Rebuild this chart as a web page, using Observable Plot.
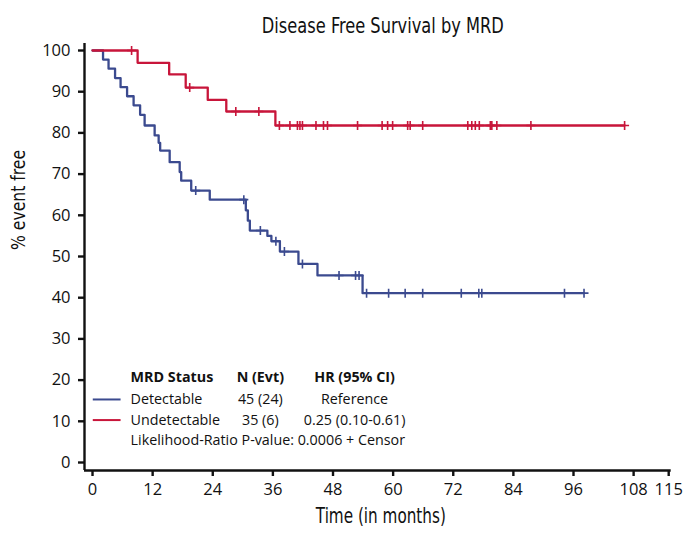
<!DOCTYPE html>
<html>
<head>
<meta charset="utf-8">
<script src="https://cdn.jsdelivr.net/npm/d3@7"></script>
<script src="https://cdn.jsdelivr.net/npm/@observablehq/plot@0.6"></script>
<style>
  html, body { margin: 0; padding: 0; background: #fff; }
</style>
</head>
<body>
<div id="chart"></div>
<script>
// ---- Data ----
const detectTime = [0, 2.1, 3.2, 4.5, 5.6, 6.9, 8.2, 9.5, 10.4, 12.4, 13.2, 13.5, 15.4, 17.4, 17.7, 19.7, 23.4, 30.6, 31.0, 31.4, 34.9, 35.7, 37.4, 41.1, 44.9, 53.9, 98.1];
const detectSurv = [100, 97.8, 95.6, 93.3, 91.1, 88.9, 86.7, 84.4, 81.8, 79.4, 77.6, 75.7, 72.9, 70.5, 68.4, 66.0, 63.8, 61.2, 58.7, 56.3, 55.0, 53.7, 51.2, 48.2, 45.4, 41.1, 41.1];
const detectCensorTime = [20.6, 30.2, 33.5, 36.6, 38.3, 41.9, 49.2, 52.5, 53.2, 54.7, 59.1, 62.4, 65.9, 73.6, 77.1, 77.7, 94.2, 98.1];
const detectCensorSurv = [66.0, 63.8, 56.3, 53.7, 51.2, 48.2, 45.4, 45.4, 45.4, 41.1, 41.1, 41.1, 41.1, 41.1, 41.1, 41.1, 41.1, 41.1];

const undetTime = [0, 9.0, 15.3, 18.6, 23.0, 26.7, 36.5, 106.2];
const undetSurv = [100, 97.0, 94.2, 91.0, 88.0, 85.2, 81.8, 81.8];
const undetCensorTime = [7.8, 19.4, 28.6, 33.2, 37.3, 39.4, 40.9, 41.4, 41.9, 44.6, 46.1, 46.9, 52.9, 57.8, 58.9, 59.9, 62.9, 63.4, 65.9, 74.9, 75.7, 76.4, 77.2, 79.4, 79.7, 80.7, 87.5, 106.2];
const undetCensorSurv = [100, 91.0, 85.2, 85.2, 81.8, 81.8, 81.8, 81.8, 81.8, 81.8, 81.8, 81.8, 81.8, 81.8, 81.8, 81.8, 81.8, 81.8, 81.8, 81.8, 81.8, 81.8, 81.8, 81.8, 81.8, 81.8, 81.8, 81.8];

const xTicks = [0, 12, 24, 36, 48, 60, 72, 84, 96, 108, 115];
const yTicks = [0, 10, 20, 30, 40, 50, 60, 70, 80, 90, 100];

const titleText = "Disease Free Survival by MRD";
const xLabel = "Time (in months)";
const yLabel = "% event free";

const legendHeader = ["MRD Status", "N (Evt)", "HR (95% CI)"];
const legendGroups = ["Detectable", "Undetectable"];
const legendN = ["45 (24)", "35 (6)"];
const legendHR = ["Reference", "0.25 (0.10-0.61)"];
const legendNote = "Likelihood-Ratio P-value: 0.0006 + Censor";

// ---- Styling ----
const blue = "#3b4a8f";
const red = "#c8153a";
const colors = [blue, red];
const condensed = "'Liberation Sans Narrow', 'DejaVu Sans Condensed', 'Open Sans', sans-serif";
const tickFont = "'Open Sans', Lato, sans-serif";

// ---- Build tables ----
const toRows = (ts, ss, group) => ts.map((t, i) => ({time: t, surv: ss[i], group}));
const curves = [
  ...toRows(detectTime, detectSurv, legendGroups[0]),
  ...toRows(undetTime, undetSurv, legendGroups[1])
];
const censors = [
  ...toRows(detectCensorTime, detectCensorSurv, legendGroups[0]),
  ...toRows(undetCensorTime, undetCensorSurv, legendGroups[1])
];

const xMin = -1.6, xMax = 115.5;
const yMin = -1.94, yMax = 101.7;

// legend layout (data coordinates)
const lgX = 7.6, lgC2 = 33.5, lgC3 = 52.3;
const lgY = [20.6, 15.3, 10.3, 5.3];
const legendRows = legendGroups.map((g, i) => ({g, n: legendN[i], hr: legendHR[i], y: lgY[i + 1], c: colors[i]}));
const lgFont = 14.3;

const plot = Plot.plot({
  width: 685,
  height: 537,
  marginLeft: 84,
  marginRight: 14.3,
  marginTop: 43,
  marginBottom: 67,
  x: {domain: [xMin, xMax]},
  y: {domain: [yMin, yMax]},
  color: {domain: legendGroups, range: colors},
  style: {fontFamily: tickFont, fontSize: "16px", color: "#111", background: "#fff"},
  marks: [
    Plot.axisX({ticks: xTicks, tickSize: 6, tickPadding: 7, label: null, strokeWidth: 2.4, fontSize: 16.5, fill: "#111"}),
    Plot.axisY({ticks: yTicks, tickSize: 6, tickPadding: 8, label: null, strokeWidth: 2.4, fontSize: 16.5, fill: "#111"}),
    Plot.ruleY([yMin], {x1: xMin, x2: xMax, stroke: "#111", strokeWidth: 2.4}),
    Plot.ruleX([xMin], {y1: yMin, y2: yMax, stroke: "#111", strokeWidth: 2.4}),
    Plot.line(curves, {x: "time", y: "surv", z: "group", stroke: "group", curve: "step-after", strokeWidth: 2.3}),
    Plot.dot(censors, {x: "time", y: "surv", stroke: "group", symbol: "plus", r: 3, strokeWidth: 1.6}),
    // legend
    Plot.ruleY(legendRows, {y: "y", x1: 0.15, x2: 5.7, stroke: "c", strokeWidth: 2}),
    Plot.text(legendRows, {x: lgX, y: "y", text: "g", textAnchor: "start", fontSize: lgFont, fill: "#111"}),
    Plot.text(legendRows, {x: lgC2, y: "y", text: "n", textAnchor: "middle", fontSize: lgFont, fill: "#111"}),
    Plot.text(legendRows, {x: lgC3, y: "y", text: "hr", textAnchor: "middle", fontSize: lgFont, fill: "#111"}),
    Plot.text([legendHeader[0]], {x: lgX, y: lgY[0], text: d => d, textAnchor: "start", fontSize: lgFont, fontWeight: "bold", fill: "#111"}),
    Plot.text([legendHeader[1]], {x: lgC2, y: lgY[0], text: d => d, textAnchor: "middle", fontSize: lgFont, fontWeight: "bold", fill: "#111"}),
    Plot.text([legendHeader[2]], {x: lgC3, y: lgY[0], text: d => d, textAnchor: "middle", fontSize: lgFont, fontWeight: "bold", fill: "#111"}),
    Plot.text([legendNote], {x: lgX, y: lgY[3], text: d => d, textAnchor: "start", fontSize: lgFont, fill: "#111"}),
    // titles
    Plot.text([titleText], {frameAnchor: "top", text: d => d, dx: 5, dy: -25, fontSize: 21, fontFamily: condensed, fill: "#111"}),
    Plot.text([xLabel], {frameAnchor: "bottom", text: d => d, dx: 3, dy: 52, fontSize: 21, fontFamily: condensed, fill: "#111"}),
    Plot.text([yLabel], {frameAnchor: "left", text: d => d, dx: -66, dy: -7, rotate: -90, fontSize: 20, fontFamily: condensed, fill: "#111"})
  ]
});

// condense the title / axis-label glyphs to match the narrow face of the reference
const squeeze = {[titleText]: 242, [xLabel]: 130, [yLabel]: 100};
d3.select(plot).selectAll("text").each(function() {
  const t = this.textContent;
  if (squeeze[t]) {
    d3.select(this).attr("textLength", squeeze[t]).attr("lengthAdjust", "spacingAndGlyphs");
  }
});
document.getElementById("chart").appendChild(plot);
</script>
</body>
</html>
